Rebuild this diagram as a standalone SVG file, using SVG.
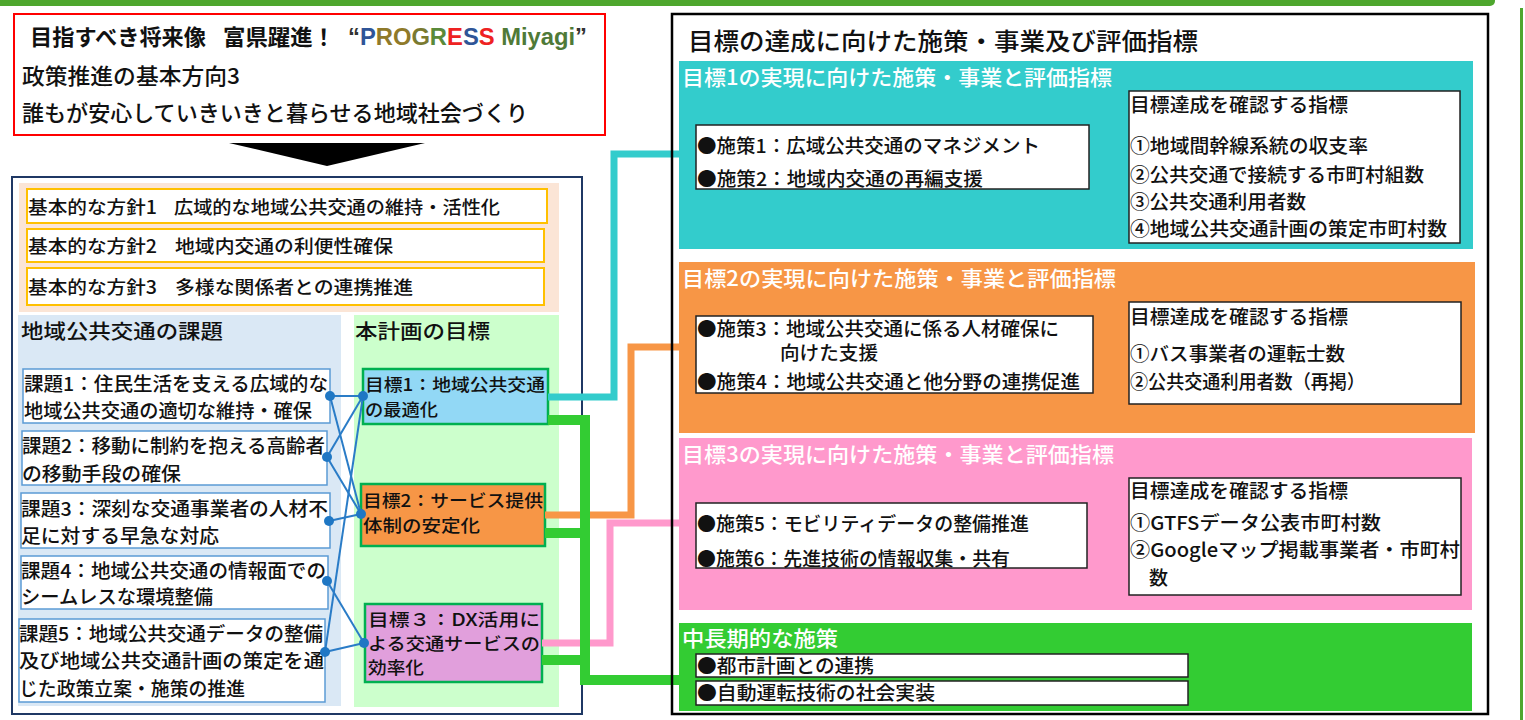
<svg xmlns="http://www.w3.org/2000/svg" width="1525" height="720" viewBox="0 0 1525 720">
<defs>
<style>
text{font-family:"Noto Sans CJK JP","Noto Sans CJK SC",sans-serif;fill:#111;font-weight:500;}
.hd{font-size:22px}
.hb{font-size:22px;font-weight:700}
.p{font-size:18px}
.s{font-size:19px}
.g{font-size:17.5px}
.st{font-size:21px;fill:#fff}
.ttl{font-size:20px}
.ib{fill:#fff;stroke:#5b9bd5;stroke-width:1.5}
.gb{stroke:#00b050;stroke-width:2.5}
.wb{fill:#fff;stroke:#222;stroke-width:1.5}
.yb{fill:#fff;stroke:#ffc000;stroke-width:2}
.bl{stroke:#2a7cc7;stroke-width:2;fill:none}
.dot{fill:#1f77c4}
.tk{fill:none;stroke-linejoin:miter;stroke-linecap:butt}
.lat{font-family:"Liberation Sans","Noto Sans",sans-serif;font-size:24px;font-weight:700}
</style>
</defs>
<rect width="1525" height="720" fill="#fff"/>
<rect x="-5" y="-5" width="1500" height="11" rx="5" fill="#4ea72e"/>
<rect x="1520" y="8" width="3" height="712" fill="#4ea72e"/>

<g id="vision">
<rect x="14" y="14" width="591" height="121" fill="#fff" stroke="#ff0000" stroke-width="2"/>
<text class="hb" x="30" y="45" textLength="176" lengthAdjust="spacingAndGlyphs">目指すべき将来像</text>
<text class="hb" x="223" y="45" textLength="112" lengthAdjust="spacingAndGlyphs">富県躍進！</text>
<text class="lat" x="348" y="45" textLength="239" lengthAdjust="spacingAndGlyphs"><tspan fill="#333">“</tspan><tspan fill="#2f5597">P</tspan><tspan fill="#8f7a2a">R</tspan><tspan fill="#8f7a2a">O</tspan><tspan fill="#7a7a30">G</tspan><tspan fill="#5a8a3a">R</tspan><tspan fill="#ee2222">E</tspan><tspan fill="#2f5597">S</tspan><tspan fill="#ee2222">S</tspan><tspan fill="#4f7a38"> Miyagi</tspan><tspan fill="#333">”</tspan></text>
<text class="hd" x="22" y="84" textLength="218" lengthAdjust="spacingAndGlyphs">政策推進の基本方向3</text>
<text class="hd" x="22" y="121" textLength="506" lengthAdjust="spacingAndGlyphs">誰もが安心していきいきと暮らせる地域社会づくり</text>
</g>
<polygon points="229,143 425,143 327,166" fill="#000"/>

<g id="left-panel">
<rect x="12" y="177" width="570" height="537" fill="#fff" stroke="#1f3864" stroke-width="2"/>
<rect x="19" y="183" width="540" height="129" fill="#fbe5d6"/>
<rect x="18" y="315" width="323" height="391" fill="#dae8f5"/>
<rect x="354" y="315" width="205" height="392" fill="#ccffcc"/>
<text class="ttl" x="21" y="339" textLength="202" lengthAdjust="spacingAndGlyphs">地域公共交通の課題</text>
<text class="ttl" x="355" y="339" textLength="135" lengthAdjust="spacingAndGlyphs">本計画の目標</text>
</g>

<g id="policy1">
<rect class="yb" x="27" y="189" width="520" height="34"/>
<text class="p" x="28" y="214" textLength="129" lengthAdjust="spacingAndGlyphs">基本的な方針1</text>
<text class="p" x="174" y="214" textLength="326" lengthAdjust="spacingAndGlyphs">広域的な地域公共交通の維持・活性化</text>
</g>
<g id="policy2">
<rect class="yb" x="27" y="229" width="517" height="33"/>
<text class="p" x="28" y="253" textLength="129" lengthAdjust="spacingAndGlyphs">基本的な方針2</text>
<text class="p" x="175" y="253" textLength="218" lengthAdjust="spacingAndGlyphs">地域内交通の利便性確保</text>
</g>
<g id="policy3">
<rect class="yb" x="27" y="268" width="517" height="37"/>
<text class="p" x="28" y="294" textLength="129" lengthAdjust="spacingAndGlyphs">基本的な方針3</text>
<text class="p" x="175" y="294" textLength="238" lengthAdjust="spacingAndGlyphs">多様な関係者との連携推進</text>
</g>

<g id="issue1">
<rect class="ib" x="23" y="369" width="307" height="54"/>
<text class="s" x="24" y="391" textLength="304" lengthAdjust="spacingAndGlyphs">課題1：住民生活を支える広域的な</text>
<text class="s" x="24" y="418" textLength="288" lengthAdjust="spacingAndGlyphs">地域公共交通の適切な維持・確保</text>
</g>
<g id="issue2">
<rect class="ib" x="22" y="431" width="305" height="54"/>
<text class="s" x="22" y="453" textLength="303" lengthAdjust="spacingAndGlyphs">課題2：移動に制約を抱える高齢者</text>
<text class="s" x="22" y="481" textLength="159" lengthAdjust="spacingAndGlyphs">の移動手段の確保</text>
</g>
<g id="issue3">
<rect class="ib" x="21" y="493" width="309" height="55"/>
<text class="s" x="21" y="516" textLength="307" lengthAdjust="spacingAndGlyphs">課題3：深刻な交通事業者の人材不</text>
<text class="s" x="21" y="543" textLength="198" lengthAdjust="spacingAndGlyphs">足に対する早急な対応</text>
</g>
<g id="issue4">
<rect class="ib" x="21" y="556" width="307" height="53"/>
<text class="s" x="21" y="578" textLength="305" lengthAdjust="spacingAndGlyphs">課題4：地域公共交通の情報面での</text>
<text class="s" x="21" y="604" textLength="192" lengthAdjust="spacingAndGlyphs">シームレスな環境整備</text>
</g>
<g id="issue5">
<rect class="ib" x="19" y="619" width="306" height="83"/>
<text class="s" x="19" y="641" textLength="304" lengthAdjust="spacingAndGlyphs">課題5：地域公共交通データの整備</text>
<text class="s" x="19" y="668" textLength="305" lengthAdjust="spacingAndGlyphs">及び地域公共交通計画の策定を通</text>
<text class="s" x="19" y="696" textLength="226" lengthAdjust="spacingAndGlyphs">じた政策立案・施策の推進</text>
</g>

<g id="goal1">
<rect class="gb" x="363" y="369" width="185" height="55" fill="#92d8f5"/>
<text class="g" x="365" y="391" textLength="180" lengthAdjust="spacingAndGlyphs">目標1：地域公共交通</text>
<text class="g" x="365" y="416" textLength="73" lengthAdjust="spacingAndGlyphs">の最適化</text>
</g>
<g id="goal2">
<rect class="gb" x="361" y="484" width="184" height="62" fill="#f79646"/>
<text class="g" x="363" y="507" textLength="180" lengthAdjust="spacingAndGlyphs">目標2：サービス提供</text>
<text class="g" x="363" y="532" textLength="117" lengthAdjust="spacingAndGlyphs">体制の安定化</text>
</g>
<g id="goal3">
<rect class="gb" x="365" y="604" width="177" height="78" fill="#e19fdc"/>
<text class="g" x="368" y="626" textLength="172" lengthAdjust="spacingAndGlyphs">目標３：DX活用に</text>
<text class="g" x="368" y="650" textLength="172" lengthAdjust="spacingAndGlyphs">よる交通サービスの</text>
<text class="g" x="368" y="674" textLength="56" lengthAdjust="spacingAndGlyphs">効率化</text>
</g>

<g id="connectors">
<g class="bl">
<line x1="330" y1="396" x2="363" y2="396"/>
<line x1="330" y1="396" x2="361" y2="514"/>
<line x1="327" y1="457" x2="363" y2="396"/>
<line x1="327" y1="457" x2="361" y2="514"/>
<line x1="329" y1="521" x2="361" y2="514"/>
<line x1="327" y1="581" x2="364" y2="643"/>
<line x1="325" y1="652" x2="363" y2="396"/>
<line x1="325" y1="652" x2="364" y2="643"/>
</g>
<g class="dot">
<circle cx="330" cy="396" r="5"/>
<circle cx="327" cy="457" r="5"/>
<circle cx="329" cy="521" r="5"/>
<circle cx="327" cy="581" r="5"/>
<circle cx="325" cy="652" r="5"/>
<circle cx="363" cy="396" r="5"/>
<circle cx="361" cy="514" r="5"/>
<circle cx="364" cy="643" r="5"/>
</g>
<polyline class="tk" points="548,397 614,397 614,154 680,154" stroke="#33cccc" stroke-width="7"/>
<polyline class="tk" points="545,515 631,515 631,347 680,347" stroke="#f79646" stroke-width="7"/>
<polyline class="tk" points="542,643 610,643 610,523 680,523" stroke="#ff99cc" stroke-width="7"/>
<polyline class="tk" points="548,420 585,420 585,680 680,680" stroke="#33cc33" stroke-width="10"/>
<line x1="545" y1="533" x2="585" y2="533" stroke="#33cc33" stroke-width="10"/>
<line x1="542" y1="660" x2="585" y2="660" stroke="#33cc33" stroke-width="10"/>
</g>

<g id="measures">
<rect x="672" y="14" width="816" height="700" fill="none" stroke="#000" stroke-width="2.5"/>
<text x="688" y="50" font-size="24" textLength="510" lengthAdjust="spacingAndGlyphs">目標の達成に向けた施策・事業及び評価指標</text>
</g>

<g id="section1">
<rect x="679" y="61" width="794" height="188" fill="#33cccc"/>
<text class="st" x="682" y="85" textLength="430" lengthAdjust="spacingAndGlyphs">目標1の実現に向けた施策・事業と評価指標</text>
<rect class="wb" x="696" y="125" width="393" height="64"/>
<text class="s" x="697" y="153" textLength="343" lengthAdjust="spacingAndGlyphs">●施策1：広域公共交通のマネジメント</text>
<text class="s" x="697" y="186" textLength="286" lengthAdjust="spacingAndGlyphs">●施策2：地域内交通の再編支援</text>
<rect class="wb" x="1129" y="91" width="331" height="152"/>
<text class="s" x="1130" y="112" textLength="218" lengthAdjust="spacingAndGlyphs">目標達成を確認する指標</text>
<text class="s" x="1130" y="153" textLength="238" lengthAdjust="spacingAndGlyphs">①地域間幹線系統の収支率</text>
<text class="s" x="1130" y="182" textLength="294" lengthAdjust="spacingAndGlyphs">②公共交通で接続する市町村組数</text>
<text class="s" x="1130" y="209" textLength="176" lengthAdjust="spacingAndGlyphs">③公共交通利用者数</text>
<text class="s" x="1130" y="236" textLength="317" lengthAdjust="spacingAndGlyphs">④地域公共交通計画の策定市町村数</text>
</g>

<g id="section2">
<rect x="679" y="262" width="796" height="171" fill="#f79646"/>
<text class="st" x="682" y="286" textLength="434" lengthAdjust="spacingAndGlyphs">目標2の実現に向けた施策・事業と評価指標</text>
<rect class="wb" x="696" y="316" width="397" height="77"/>
<text class="s" x="697" y="336" textLength="362" lengthAdjust="spacingAndGlyphs">●施策3：地域公共交通に係る人材確保に</text>
<text class="s" x="780" y="360" textLength="98" lengthAdjust="spacingAndGlyphs">向けた支援</text>
<text class="s" x="697" y="389" textLength="383" lengthAdjust="spacingAndGlyphs">●施策4：地域公共交通と他分野の連携促進</text>
<rect class="wb" x="1129" y="302" width="332" height="102"/>
<text class="s" x="1130" y="324" textLength="218" lengthAdjust="spacingAndGlyphs">目標達成を確認する指標</text>
<text class="s" x="1130" y="361" textLength="215" lengthAdjust="spacingAndGlyphs">①バス事業者の運転士数</text>
<text class="s" x="1130" y="389" textLength="235" lengthAdjust="spacingAndGlyphs">②公共交通利用者数（再掲）</text>
</g>

<g id="section3">
<rect x="679" y="438" width="793" height="172" fill="#ff99cc"/>
<text class="st" x="682" y="462" textLength="432" lengthAdjust="spacingAndGlyphs">目標3の実現に向けた施策・事業と評価指標</text>
<rect class="wb" x="696" y="503" width="391" height="65"/>
<text class="s" x="697" y="531" textLength="332" lengthAdjust="spacingAndGlyphs">●施策5：モビリティデータの整備推進</text>
<text class="s" x="697" y="566" textLength="313" lengthAdjust="spacingAndGlyphs">●施策6：先進技術の情報収集・共有</text>
<rect class="wb" x="1129" y="478" width="332" height="117"/>
<text class="s" x="1130" y="498" textLength="218" lengthAdjust="spacingAndGlyphs">目標達成を確認する指標</text>
<text class="s" x="1130" y="530" textLength="251" lengthAdjust="spacingAndGlyphs">①GTFSデータ公表市町村数</text>
<text class="s" x="1130" y="557" textLength="330" lengthAdjust="spacingAndGlyphs">②Googleマップ掲載事業者・市町村</text>
<text class="s" x="1149" y="585">数</text>
</g>

<g id="section4">
<rect x="679" y="623" width="793" height="88" fill="#33cc33"/>
<text class="st" x="682" y="646" textLength="156" lengthAdjust="spacingAndGlyphs">中長期的な施策</text>
<rect class="wb" x="696" y="654" width="492" height="23"/>
<text class="s" x="697" y="673" textLength="177" lengthAdjust="spacingAndGlyphs">●都市計画との連携</text>
<rect class="wb" x="696" y="681" width="492" height="24"/>
<text class="s" x="697" y="700" textLength="238" lengthAdjust="spacingAndGlyphs">●自動運転技術の社会実装</text>
</g>
</svg>
